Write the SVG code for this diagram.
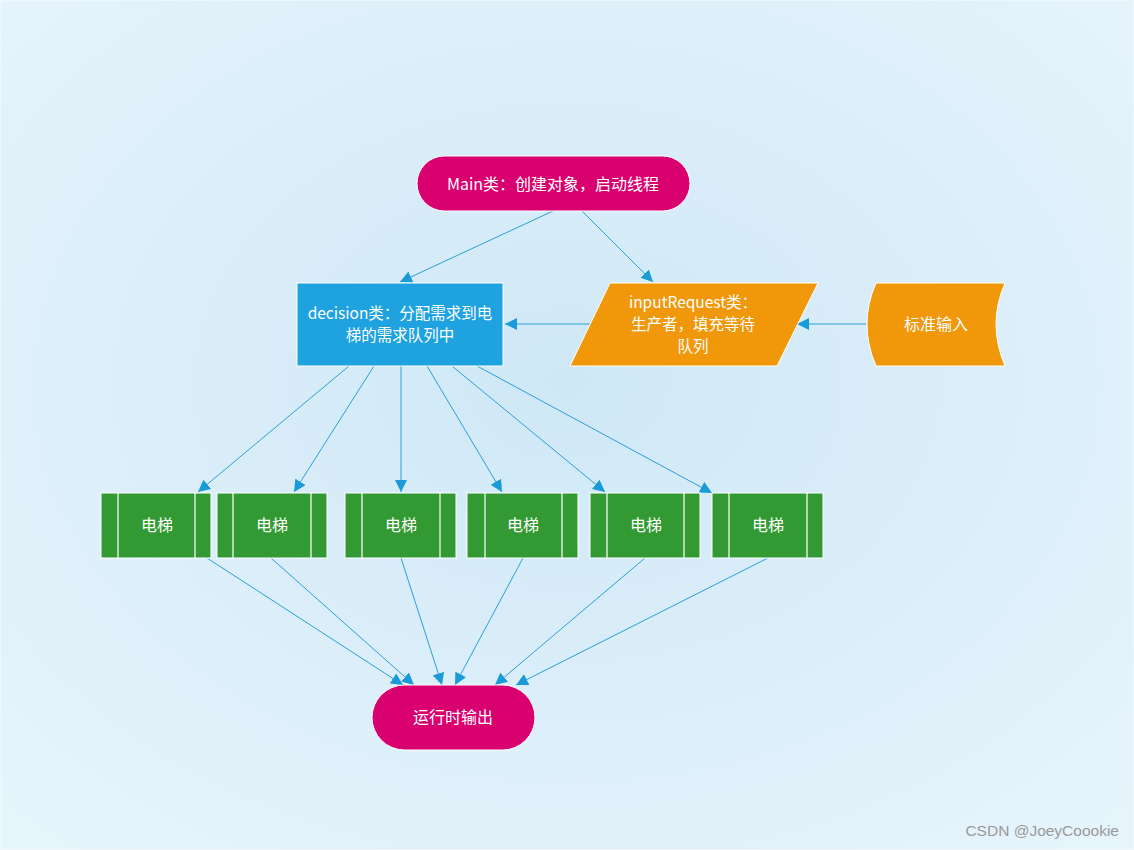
<svg xmlns="http://www.w3.org/2000/svg" width="1134" height="850" viewBox="0 0 1134 850">
<defs>
<radialGradient id="bg" cx="0.5" cy="0.45" r="0.7">
<stop offset="0" stop-color="#cfe8f6"/>
<stop offset="1" stop-color="#e6f4fc"/>
</radialGradient>
<marker id="ah" viewBox="0 0 10 10" refX="10" refY="5" markerWidth="12" markerHeight="12" markerUnits="userSpaceOnUse" orient="auto">
<path d="M0,0 L10,5 L0,10 z" fill="#1a9ad8"/>
</marker>
<style>
.t{font-family:"Noto Sans CJK SC","Liberation Sans",sans-serif;font-size:16px;fill:#ffffff;text-anchor:middle}
.m{font-size:15.5px}
.c line{stroke:#2a9fd8;stroke-width:1;marker-end:url(#ah)}
.pink{fill:#d90070;stroke:#ffffff;stroke-width:1}
.orange{fill:#f0970a;stroke:#ffffff;stroke-width:1}
.blue{fill:#1ea2e0;stroke:#ffffff;stroke-width:1}
.green{fill:#339933;stroke:#ffffff;stroke-width:1}
.div{stroke:#ffffff;stroke-width:1.2}
</style>
</defs>
<rect x="0" y="0" width="1134" height="850" fill="url(#bg)"/>
<rect x="0.5" y="0.5" width="1133" height="849" fill="none" stroke="#eef7fc" stroke-width="1"/>

<g class="c" id="connectors">
<line x1="553" y1="211" x2="400" y2="282"/>
<line x1="582" y1="211" x2="653" y2="282"/>
<line x1="590" y1="324" x2="505" y2="324"/>
<line x1="866" y1="324" x2="797" y2="324"/>
<line x1="349" y1="366" x2="198" y2="492"/>
<line x1="374" y1="366" x2="294" y2="492"/>
<line x1="401" y1="366" x2="401" y2="492"/>
<line x1="427" y1="366" x2="502" y2="492"/>
<line x1="452" y1="366" x2="605" y2="492"/>
<line x1="477" y1="366" x2="712" y2="493"/>
<line x1="207" y1="558" x2="403" y2="685"/>
<line x1="271" y1="558" x2="414" y2="685"/>
<line x1="401" y1="558" x2="442" y2="685"/>
<line x1="523" y1="558" x2="455" y2="685"/>
<line x1="645" y1="558" x2="495" y2="685"/>
<line x1="768" y1="558" x2="516" y2="685"/>
</g>

<g id="main">
<rect class="pink" x="417" y="156" width="273" height="55" rx="27.5"/>
<text class="t" x="553" y="190">Main类：创建对象，启动线程</text>
</g>

<g id="decision">
<rect class="blue" x="297" y="283" width="206" height="83"/>
<text class="t m" x="400" y="319">decision类：分配需求到电</text>
<text class="t m" x="400" y="341">梯的需求队列中</text>
</g>

<g id="inputRequest">
<polygon class="orange" points="610,283 818,283 777,366 570,366"/>
<text class="t m" x="693" y="308">inputRequest类：</text>
<text class="t m" x="693" y="330">生产者，填充等待</text>
<text class="t m" x="693" y="352">队列</text>
</g>

<g id="stdin">
<path class="orange" d="M876,283 L1005,283 Q987,324 1005,366 L876,366 Q858,324 876,283 Z"/>
<text class="t" x="936" y="330">标准输入</text>
</g>

<g id="elevator1">
<rect class="green" x="101" y="493" width="110" height="65"/>
<line class="div" x1="118" y1="493" x2="118" y2="558"/>
<line class="div" x1="195" y1="493" x2="195" y2="558"/>
<text class="t" x="157" y="531">电梯</text>
</g>
<g id="elevator2">
<rect class="green" x="217" y="493" width="110" height="65"/>
<line class="div" x1="233" y1="493" x2="233" y2="558"/>
<line class="div" x1="311" y1="493" x2="311" y2="558"/>
<text class="t" x="272" y="531">电梯</text>
</g>
<g id="elevator3">
<rect class="green" x="345" y="493" width="111" height="65"/>
<line class="div" x1="362" y1="493" x2="362" y2="558"/>
<line class="div" x1="440" y1="493" x2="440" y2="558"/>
<text class="t" x="401" y="531">电梯</text>
</g>
<g id="elevator4">
<rect class="green" x="467" y="493" width="111" height="65"/>
<line class="div" x1="485" y1="493" x2="485" y2="558"/>
<line class="div" x1="562" y1="493" x2="562" y2="558"/>
<text class="t" x="523" y="531">电梯</text>
</g>
<g id="elevator5">
<rect class="green" x="590" y="493" width="110" height="65"/>
<line class="div" x1="607" y1="493" x2="607" y2="558"/>
<line class="div" x1="684" y1="493" x2="684" y2="558"/>
<text class="t" x="646" y="531">电梯</text>
</g>
<g id="elevator6">
<rect class="green" x="712" y="493" width="111" height="65"/>
<line class="div" x1="729" y1="493" x2="729" y2="558"/>
<line class="div" x1="807" y1="493" x2="807" y2="558"/>
<text class="t" x="768" y="531">电梯</text>
</g>

<g id="output">
<rect class="pink" x="372" y="685" width="163" height="65" rx="32.5"/>
<text class="t" x="453" y="723">运行时输出</text>
</g>

<text x="1119" y="836" font-family="Liberation Sans, sans-serif" font-size="15.5" fill="#9a9a9a" text-anchor="end">CSDN @JoeyCoookie</text>
</svg>
